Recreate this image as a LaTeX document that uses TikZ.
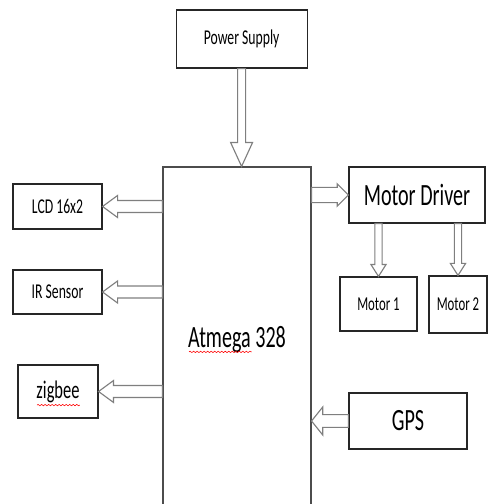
\documentclass[tikz,border=0pt]{standalone}
\usepackage{fontspec}
\usepackage{xcolor}
\newfontfamily\calibri[FakeStretch=0.65]{Carlito}
\usetikzlibrary{calc, decorations.pathmorphing}
\definecolor{edge}{HTML}{7F7F7F}
\newcommand\sizept[1]{\fontsize{#1}{#1}\selectfont}

\tikzset{
  block/.style={draw=black!85, line width=0.8pt, fill=white, inner sep=0pt, align=center},
  hollow/.style n args={3}{draw=edge, line width=0.8pt, fill=white, to path={
    ($(\tikztostart)!#1!90:(\tikztotarget)$) --
    ($(\tikztotarget)!#3!(\tikztostart)!#1!-90:(\tikztostart)$) --
    ($(\tikztotarget)!#3!(\tikztostart)!#2!-90:(\tikztostart)$) --
    (\tikztotarget) --
    ($(\tikztotarget)!#3!(\tikztostart)!#2!90:(\tikztostart)$) --
    ($(\tikztotarget)!#3!(\tikztostart)!#1!90:(\tikztostart)$) --
    ($(\tikztostart)!#1!-90:(\tikztotarget)$) -- cycle}},
  sidearrow/.style={hollow={1.5mm}{2.75mm}{3.75mm}},
  motorarrow/.style={hollow={0.9mm}{1.9mm}{3mm}},
  squiggle/.style={red, line width=0.4pt, decorate, decoration={snake, amplitude=0.5pt, segment length=2.5pt}}
}

\begin{document}
\begin{tikzpicture}[font=\calibri]
  \clip (0,0) rectangle (12.225,12.6);

  \node[block, minimum width=3.275cm, minimum height=1.45cm, font=\calibri\sizept{15}] (power) at (6.04,11.625) {Power Supply};
  \node[block, draw=black!70, minimum width=3.7cm, minimum height=8.625cm, font=\calibri\sizept{22}] (atm) at (5.925,4.1125) {Atmega 328};

  \node[block, minimum width=2.225cm, minimum height=1.125cm, font=\calibri\sizept{15}] (lcd) at (1.4375,7.4375) {LCD 16x2};
  \node[block, minimum width=2.225cm, minimum height=1.1cm, font=\calibri\sizept{15}] (ir) at (1.4375,5.3) {IR Sensor};
  \node[block, minimum width=2cm, minimum height=1.325cm, font=\calibri\sizept{18}] (zig) at (1.45,2.8125) {zigbee};

  \node[block, minimum width=3.4cm, minimum height=1.4cm, font=\calibri\sizept{22}] (drv) at (10.425,7.725) {Motor Driver};
  \node[block, minimum width=1.925cm, minimum height=1.35cm, font=\calibri\sizept{14}] (m1) at (9.4625,5.0) {Motor 1};
  \node[block, minimum width=1.45cm, minimum height=1.425cm, font=\calibri\sizept{14}] (m2) at (11.45,4.9875) {Motor 2};
  \node[block, minimum width=2.95cm, minimum height=1.4cm, font=\calibri\sizept{22}] (gps) at (10.2,2.075) {GPS};

  % spell-check marks
  \draw[squiggle] ([xshift=-1.2cm, yshift=-0.31cm]atm.center) -- ++(1.575,0);
  \draw[squiggle] ([xshift=-0.525cm, yshift=-0.34cm]zig.center) -- ++(1.075,0);

  % hollow arrows
  \draw[hollow={1mm}{2.75mm}{6mm}] (power.south) to (power.south |- atm.north);
  \draw[sidearrow] (atm.west |- lcd.east) to (lcd.east);
  \draw[sidearrow] (atm.west |- ir.east) to (ir.east);
  \draw[sidearrow] (atm.west |- zig.east) to (zig.east);
  \draw[hollow={1.9mm}{2.8mm}{2.8mm}] (atm.east |- drv.west) to (drv.west);
  \draw[motorarrow] (m1.north |- drv.south) to (m1.north);
  \draw[motorarrow] (m2.north |- drv.south) to (m2.north);
  \draw[hollow={1.6mm}{3.5mm}{2.8mm}] (gps.west) to (gps.west -| atm.east);
\end{tikzpicture}
\end{document}
